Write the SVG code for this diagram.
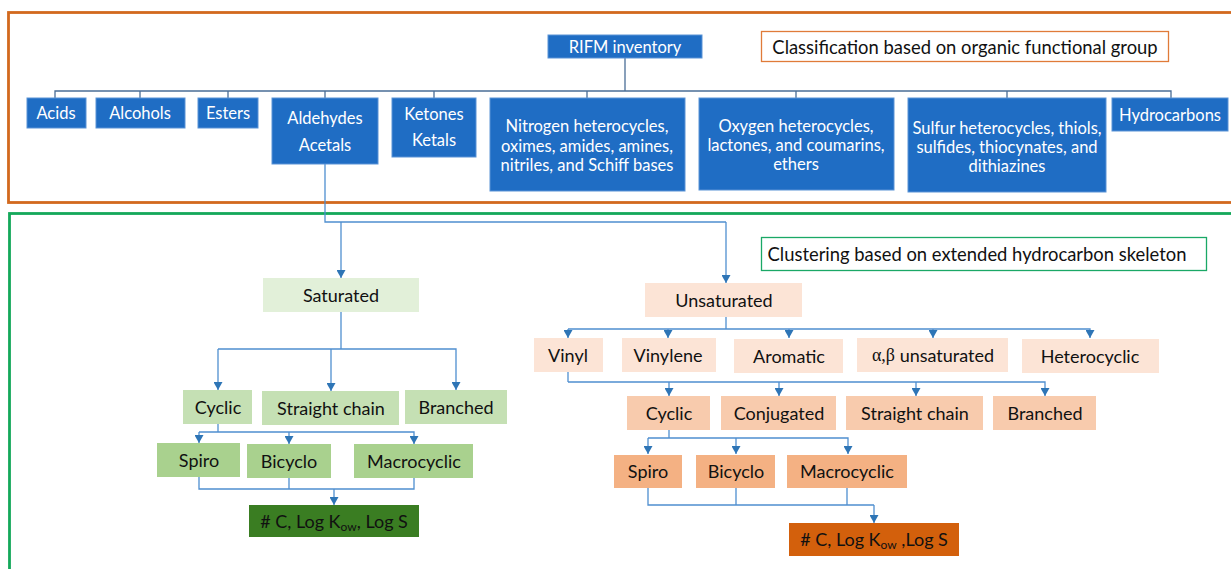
<svg xmlns="http://www.w3.org/2000/svg" width="1231" height="569" viewBox="0 0 1231 569">
<defs>
<marker id="ad" markerWidth="9" markerHeight="8" refX="4.5" refY="8" orient="0" markerUnits="userSpaceOnUse" viewBox="0 0 9 8">
<path d="M0,0 L9,0 L4.5,8 Z" fill="#2e75b6"/>
</marker>
</defs>
<style>
text{font-family:Lato,"Open Sans","Liberation Sans",sans-serif;text-anchor:middle;dominant-baseline:central}
.b rect{fill:#1f6dc4;stroke:#5a93d6;stroke-width:1}
.b text{fill:#fff;font-size:16.5px}
.g1 rect{fill:#e2f0d9}
.g2 rect{fill:#c5e0b4}
.g3 rect{fill:#a9d18e}
.g4 rect{fill:#3a7d22}
.o1 rect{fill:#fce4d6}
.o2 rect{fill:#f8cbad}
.o3 rect{fill:#f4b183}
.o4 rect{fill:#d3600c}
.n text{fill:#111;font-size:18px}
.lbl{fill:#111;font-size:18.4px}
.top path{fill:none;stroke:#4a6d96;stroke-width:1.3}
.low path{fill:none;stroke:#4f8fd0;stroke-width:1.3}
.arr{marker-end:url(#ad)}
.sub{font-size:12px}
</style>
<rect x="0" y="0" width="1231" height="569" fill="#fff"/>
<rect x="8.5" y="12.5" width="1240" height="190" fill="none" stroke="#d2691e" stroke-width="2.8"/>
<rect x="9.5" y="213.5" width="1240" height="380" fill="none" stroke="#14a85a" stroke-width="2.8"/>

<g id="connectors">
<g class="top">
<path d="M625,58 V91"/>
<path d="M55,98 V91 H1171 V98"/>
<path d="M140,91 V98 M228,91 V98 M325,91 V98 M434,91 V98 M587,91 V98 M796,91 V98 M1007,91 V98"/>
</g>
<g class="low">
<path d="M325,164 V222 H726"/>
<path class="arr" d="M341,222 V278"/>
<path class="arr" d="M726,222 V283"/>
<path d="M341,312 V349"/>
<path class="arr" d="M218,349 V390"/>
<path class="arr" d="M331,349 V391"/>
<path class="arr" d="M218,349 H456 V390"/>
<path d="M218,424 V432"/>
<path class="arr" d="M199,432 V443"/>
<path class="arr" d="M289,432 V444"/>
<path class="arr" d="M199,432 H414 V444"/>
<path d="M199,477 V489 H414 V478 M289,478 V489"/>
<path class="arr" d="M334,489 V505"/>
<path d="M726,317 V329"/>
<path class="arr" d="M568,329 V338"/>
<path class="arr" d="M668,329 V338"/>
<path class="arr" d="M789,329 V338"/>
<path class="arr" d="M933,329 V338"/>
<path class="arr" d="M568,329 H1090 V338"/>
<path d="M568,372 V382"/>
<path class="arr" d="M669,382 V396"/>
<path class="arr" d="M779,382 V396"/>
<path class="arr" d="M916,382 V396"/>
<path class="arr" d="M568,382 H1045 V396"/>
<path d="M669,430 V438"/>
<path class="arr" d="M648,438 V454"/>
<path class="arr" d="M736,438 V454"/>
<path class="arr" d="M648,438 H848 V454"/>
<path d="M648,488 V505 H874 M847,488 V505 M736,488 V505"/>
<path class="arr" d="M874,505 V523"/>
</g>
</g>

<g id="label-classification">
<rect x="761.5" y="31.5" width="407" height="30" fill="#fff" stroke="#e07b39" stroke-width="1.3"/>
<text class="lbl" x="965" y="47">Classification based on organic functional group</text>
</g>
<g id="label-clustering">
<rect x="761.5" y="237.5" width="445" height="33" fill="#fff" stroke="#1aa866" stroke-width="1.3"/>
<text class="lbl" x="977" y="254">Clustering based on extended hydrocarbon skeleton</text>
</g>

<g id="rifm" class="b"><rect x="548" y="35" width="154" height="23"/><text x="625" y="46.5">RIFM inventory</text></g>
<g id="acids" class="b"><rect x="27" y="98" width="59" height="30"/><text x="56" y="113">Acids</text></g>
<g id="alcohols" class="b"><rect x="96" y="98" width="89" height="30"/><text x="140" y="113">Alcohols</text></g>
<g id="esters" class="b"><rect x="198" y="98" width="60" height="30"/><text x="228" y="113">Esters</text></g>
<g id="aldehydes" class="b"><rect x="272" y="98" width="106" height="66"/><text x="325" y="118">Aldehydes</text><text x="325" y="145">Acetals</text></g>
<g id="ketones" class="b"><rect x="392" y="98" width="84" height="59"/><text x="434" y="114">Ketones</text><text x="434" y="140">Ketals</text></g>
<g id="nitrogen" class="b"><rect x="490" y="98" width="195" height="93"/><text x="587" y="126">Nitrogen heterocycles,</text><text x="587" y="146">oximes, amides, amines,</text><text x="587" y="165">nitriles, and Schiff bases</text></g>
<g id="oxygen" class="b"><rect x="699" y="98" width="195" height="92"/><text x="796" y="126">Oxygen heterocycles,</text><text x="796" y="145">lactones, and coumarins,</text><text x="796" y="164">ethers</text></g>
<g id="sulfur" class="b"><rect x="908" y="98" width="198" height="94"/><text x="1007" y="128">Sulfur heterocycles, thiols,</text><text x="1007" y="147">sulfides, thiocynates, and</text><text x="1007" y="166">dithiazines</text></g>
<g id="hydrocarbons" class="b"><rect x="1112" y="98" width="116" height="33"/><text x="1170" y="115">Hydrocarbons</text></g>

<g id="saturated" class="n g1"><rect x="263" y="278" width="156" height="34"/><text x="341" y="295">Saturated</text></g>
<g id="s-cyclic" class="n g2"><rect x="183" y="390" width="69" height="34"/><text x="218" y="407">Cyclic</text></g>
<g id="s-straight" class="n g2"><rect x="262" y="391" width="137" height="34"/><text x="331" y="408">Straight chain</text></g>
<g id="s-branched" class="n g2"><rect x="405" y="390" width="102" height="34"/><text x="456" y="407">Branched</text></g>
<g id="s-spiro" class="n g3"><rect x="157" y="443" width="83" height="34"/><text x="199" y="460">Spiro</text></g>
<g id="s-bicyclo" class="n g3"><rect x="247" y="444" width="84" height="34"/><text x="289" y="461">Bicyclo</text></g>
<g id="s-macro" class="n g3"><rect x="354" y="444" width="119" height="34"/><text x="414" y="461">Macrocyclic</text></g>
<g id="s-result" class="n g4"><rect x="249" y="505" width="170" height="32"/><text x="334" y="521">#&#160;C, Log K<tspan class="sub" dy="5">ow</tspan><tspan dy="-5">, Log S</tspan></text></g>

<g id="unsaturated" class="n o1"><rect x="645" y="283" width="157" height="34"/><text x="724" y="300">Unsaturated</text></g>
<g id="vinyl" class="n o1"><rect x="534" y="338" width="69" height="34"/><text x="568" y="355">Vinyl</text></g>
<g id="vinylene" class="n o1"><rect x="622" y="338" width="94" height="34"/><text x="668" y="355">Vinylene</text></g>
<g id="aromatic" class="n o1"><rect x="734" y="339" width="109" height="34"/><text x="789" y="356">Aromatic</text></g>
<g id="alphabeta" class="n o1"><rect x="857" y="338" width="151" height="34"/><text x="933" y="355"><tspan font-family="Liberation Serif,serif">α,β</tspan> unsaturated</text></g>
<g id="heterocyclic" class="n o1"><rect x="1022" y="339" width="137" height="34"/><text x="1090" y="356">Heterocyclic</text></g>
<g id="u-cyclic" class="n o2"><rect x="627" y="396" width="83" height="34"/><text x="669" y="413">Cyclic</text></g>
<g id="u-conjugated" class="n o2"><rect x="721" y="396" width="115" height="34"/><text x="779" y="413">Conjugated</text></g>
<g id="u-straight" class="n o2"><rect x="846" y="396" width="137" height="34"/><text x="915" y="413">Straight chain</text></g>
<g id="u-branched" class="n o2"><rect x="993" y="396" width="103" height="34"/><text x="1045" y="413">Branched</text></g>
<g id="u-spiro" class="n o3"><rect x="614" y="455" width="68" height="33"/><text x="648" y="471">Spiro</text></g>
<g id="u-bicyclo" class="n o3"><rect x="696" y="455" width="79" height="33"/><text x="736" y="471">Bicyclo</text></g>
<g id="u-macro" class="n o3"><rect x="787" y="455" width="120" height="33"/><text x="847" y="471">Macrocyclic</text></g>
<g id="u-result" class="n o4"><rect x="789" y="523" width="170" height="33"/><text x="874" y="539">#&#160;C, Log K<tspan class="sub" dy="5">ow</tspan><tspan dy="-5">&#160;,Log S</tspan></text></g>
</svg>
